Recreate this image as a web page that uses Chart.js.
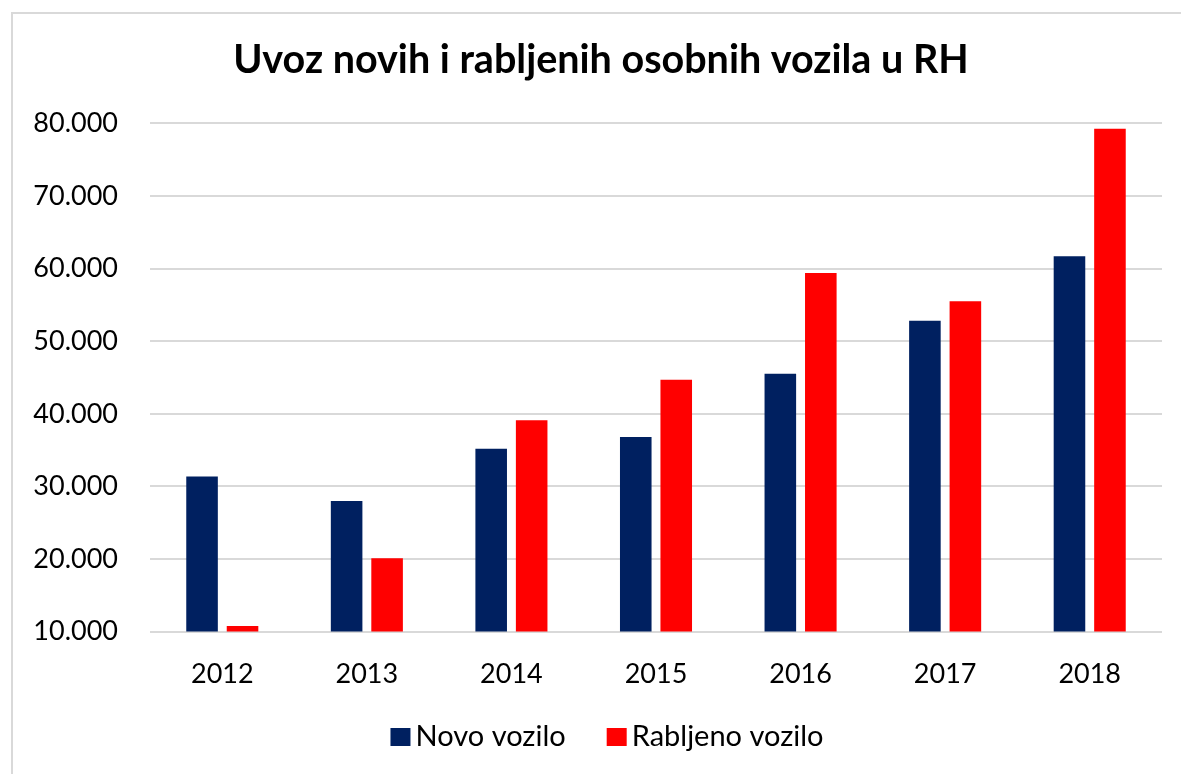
<!DOCTYPE html>
<html>
<head>
<meta charset="utf-8">
<script src="https://cdn.jsdelivr.net/npm/chart.js@4.4.1/dist/chart.umd.min.js"></script>
<style>
  html, body { margin: 0; padding: 0; background: #fff; overflow: hidden; }
  body { width: 1181px; height: 774px; position: relative; }
  .frame {
    position: absolute; left: 11px; top: 12px;
    width: 1180px; height: 770px;
    border-left: 2px solid #d9d9d9; border-top: 2px solid #d9d9d9;
  }
  .frame canvas { display: block; }
</style>
</head>
<body>
<div class="frame">
  <canvas id="chart" width="1176" height="768"></canvas>
</div>
<script>
const years = ['2012', '2013', '2014', '2015', '2016', '2017', '2018'];
const novoVozilo = [31350, 28000, 35200, 36800, 45500, 52800, 61700];
const rabljenoVozilo = [10760, 20100, 39100, 44700, 59400, 55500, 79270];

const fontName = 'Lato, "Open Sans", sans-serif';

// legenda ispod grafa, crtana ručno (razmaci kao u Excelu)
const bottomLegend = {
  id: 'bottomLegend',
  afterDraw(chart) {
    const ctx = chart.ctx;
    const box = 20, gapText = 5, gapItem = 41;
    ctx.save();
    ctx.font = '29px ' + fontName;
    ctx.textBaseline = 'middle';
    const items = chart.data.datasets.map(ds => ({
      text: ds.label, color: ds.backgroundColor, w: ctx.measureText(ds.label).width,
    }));
    let total = items.reduce((s, it) => s + box + gapText + it.w, 0) + gapItem * (items.length - 1);
    let x = chart.width / 2 + 6 - total / 2;
    const y = 723;
    items.forEach(it => {
      ctx.fillStyle = it.color;
      ctx.fillRect(x, y - 9, box, 18);
      ctx.fillStyle = '#000';
      ctx.fillText(it.text, x + box + gapText, y);
      x += box + gapText + it.w + gapItem;
    });
    ctx.restore();
  },
};

new Chart(document.getElementById('chart').getContext('2d'), {
  type: 'bar',
  data: {
    labels: years,
    datasets: [
      {
        label: 'Novo vozilo',
        data: novoVozilo,
        backgroundColor: '#002060',
        categoryPercentage: 0.56,
        barPercentage: 0.78,
      },
      {
        label: 'Rabljeno vozilo',
        data: rabljenoVozilo,
        backgroundColor: '#ff0000',
        categoryPercentage: 0.56,
        barPercentage: 0.78,
      },
    ],
  },
  plugins: [bottomLegend],
  options: {
    responsive: false,
    animation: false,
    layout: {
      padding: { left: 0, right: 0, top: 0, bottom: 73 },
    },
    plugins: {
      title: {
        display: true,
        text: 'Uvoz novih i rabljenih osobnih vozila u RH',
        color: '#000',
        font: { family: fontName, size: 39.5, weight: 'bold' },
        padding: { top: 23, bottom: 39 },
      },
      legend: { display: false },
      tooltip: { enabled: false },
    },
    scales: {
      x: {
        grid: { display: false },
        border: { display: false },
        ticks: {
          color: '#000',
          font: { family: fontName, size: 27 },
          padding: 18.5,
        },
      },
      y: {
        min: 10000,
        max: 80000,
        border: { display: false },
        grid: { color: '#d9d9d9', lineWidth: 2, drawTicks: false },
        ticks: {
          stepSize: 10000,
          color: '#000',
          font: { family: fontName, size: 27 },
          padding: 32,
          callback: (v) => v.toLocaleString('de-DE'),
        },
        afterFit: (scale) => { scale.width = 137; },
      },
      // prazna desna os, samo da ostavi razmak desno od grafa
      yRight: {
        type: 'linear',
        position: 'right',
        grid: { display: false },
        border: { display: false },
        ticks: { display: false },
        afterFit: (scale) => { scale.width = 27; },
      },
    },
  },
});
</script>
</body>
</html>
